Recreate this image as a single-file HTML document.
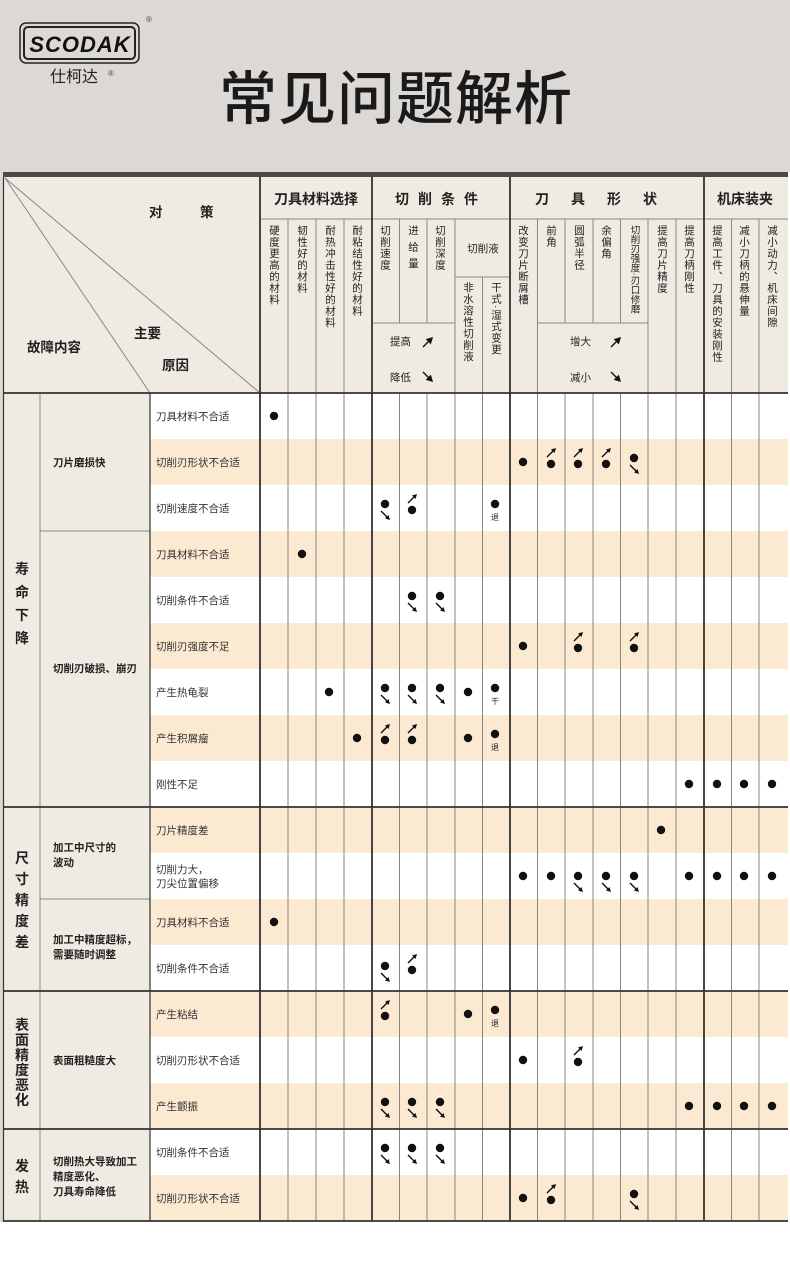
<!DOCTYPE html>
<html><head><meta charset="utf-8"><style>
html,body{margin:0;padding:0;background:#fff}
svg{display:block}
text{font-family:"Liberation Sans","Noto Sans CJK SC",sans-serif;fill:#222}
.v{writing-mode:vertical-rl;font-size:10.5px;letter-spacing:1px}
.r{font-size:10.5px;fill:#333}
.s{font-size:10.5px;fill:#222;font-weight:bold}
.c{font-size:14px;fill:#222;font-weight:bold}
.h{font-size:13.5px;fill:#222;font-weight:bold}
</style></head><body>
<svg width="790" height="1270" viewBox="0 0 790 1270" xmlns="http://www.w3.org/2000/svg">
<defs>
<g id="d"><circle cx="0" cy="0" r="4.2" fill="#111"/></g>
<g id="u"><circle cx="0" cy="0" r="4.2" fill="#111"/><path d="M-4,-7 L2.5,-13.5" stroke="#111" stroke-width="1.4"/><path d="M5,-16 L0,-14.5 L3.5,-11 Z" fill="#111"/></g>
<g id="n"><circle cx="0" cy="0" r="4.2" fill="#111"/><path d="M-4,7 L2.5,13.5" stroke="#111" stroke-width="1.4"/><path d="M5,16 L0,14.5 L3.5,11 Z" fill="#111"/></g>
</defs>
<!-- top band -->
<rect x="0" y="0" width="790" height="172" fill="#dcd8d5"/>
<rect x="0" y="172" width="3" height="1050" fill="#dcd8d5"/>
<rect x="20" y="23" width="119" height="40" rx="6" fill="none" stroke="#222" stroke-width="1.5"/>
<rect x="24" y="27" width="111" height="32" rx="4" fill="none" stroke="#222" stroke-width="2"/>
<text x="80" y="52" text-anchor="middle" style="font-size:22px;font-weight:bold;font-style:italic;fill:#111;letter-spacing:1px">SCODAK</text>
<text x="146" y="22" style="font-size:8px;fill:#444">®</text>
<text x="50" y="82" style="font-size:16px;fill:#222">仕柯达</text>
<text x="108" y="76" style="font-size:8px;fill:#444">®</text>
<text x="396" y="119" text-anchor="middle" style="font-size:58px;font-weight:500;fill:#1a1a1a;letter-spacing:1px">常见问题解析</text>

<!-- header bg -->
<rect x="3" y="177" width="785" height="216" fill="#efebe3"/>
<rect x="3" y="172" width="785" height="5" fill="#4a4a4a"/>

<!-- data backgrounds -->
<rect x="3" y="393" width="147" height="828" fill="#efebe3"/>
<rect x="150" y="393" width="638" height="828" fill="#fff"/>
<g fill="#fbe9d2">
<rect x="150" y="439" width="638" height="46"/>
<rect x="150" y="531" width="638" height="46"/>
<rect x="150" y="623" width="638" height="46"/>
<rect x="150" y="715" width="638" height="46"/>
<rect x="150" y="807" width="638" height="46"/>
<rect x="150" y="899" width="638" height="46"/>
<rect x="150" y="991" width="638" height="46"/>
<rect x="150" y="1083" width="638" height="46"/>
<rect x="150" y="1175" width="638" height="46"/>
</g>

<!-- header lines -->
<g stroke="#8a8580" stroke-width="1" fill="none">
<line x1="5" y1="178" x2="150" y2="393"/>
<line x1="5" y1="178" x2="260" y2="393"/>
<line x1="260" y1="219" x2="788" y2="219"/>
<line x1="372" y1="323" x2="455" y2="323"/>
<line x1="455" y1="277" x2="510" y2="277"/>
<line x1="537" y1="323" x2="648" y2="323"/>
<line x1="288" y1="219" x2="288" y2="1221"/>
<line x1="316" y1="219" x2="316" y2="1221"/>
<line x1="344" y1="219" x2="344" y2="1221"/>
<line x1="399.5" y1="219" x2="399.5" y2="323"/>
<line x1="427" y1="219" x2="427" y2="323"/>
<line x1="455" y1="219" x2="455" y2="1221"/>
<line x1="482.5" y1="277" x2="482.5" y2="1221"/>
<line x1="537.5" y1="219" x2="537.5" y2="1221"/>
<line x1="565" y1="219" x2="565" y2="323"/>
<line x1="593" y1="219" x2="593" y2="323"/>
<line x1="620.5" y1="219" x2="620.5" y2="323"/>
<line x1="648" y1="219" x2="648" y2="1221"/>
<line x1="676" y1="219" x2="676" y2="1221"/>
<line x1="731.5" y1="219" x2="731.5" y2="1221"/>
<line x1="759" y1="219" x2="759" y2="1221"/>
<line x1="399.5" y1="393" x2="399.5" y2="1221"/>
<line x1="427" y1="393" x2="427" y2="1221"/>
<line x1="565" y1="393" x2="565" y2="1221"/>
<line x1="593" y1="393" x2="593" y2="1221"/>
<line x1="620.5" y1="393" x2="620.5" y2="1221"/>
<line x1="40" y1="393" x2="40" y2="1221"/>
<line x1="40" y1="531" x2="150" y2="531"/>
<line x1="40" y1="899" x2="150" y2="899"/>
<line x1="40" y1="853" x2="40" y2="853"/>
</g>
<g stroke="#333" stroke-width="1.2">
<line x1="150" y1="393" x2="150" y2="1221"/>
<line x1="3.5" y1="177" x2="3.5" y2="1221"/>
</g>
<g stroke="#333" stroke-width="1.8">
<line x1="260" y1="177" x2="260" y2="1221"/>
<line x1="372" y1="177" x2="372" y2="1221"/>
<line x1="510" y1="177" x2="510" y2="1221"/>
<line x1="704" y1="177" x2="704" y2="1221"/>
<line x1="3" y1="393" x2="788" y2="393"/>
<line x1="3" y1="807" x2="788" y2="807"/>
<line x1="3" y1="991" x2="788" y2="991"/>
<line x1="3" y1="1129" x2="788" y2="1129"/>
<line x1="3" y1="1221" x2="788" y2="1221"/>
</g>

<!-- header text -->
<text x="149" y="217" class="h">对</text>
<text x="200" y="217" class="h">策</text>
<text x="134" y="338" class="h">主要</text>
<text x="27" y="352" class="h">故障内容</text>
<text x="162" y="370" class="h">原因</text>
<text x="316" y="204" text-anchor="middle" class="c">刀具材料选择</text>
<text x="441" y="204" text-anchor="middle" class="c" style="letter-spacing:9px">切削条件</text>
<text x="607" y="204" text-anchor="middle" class="c" style="letter-spacing:22px">刀具形状</text>
<text x="745" y="204" text-anchor="middle" class="c">机床装夹</text>

<text x="274" y="225" class="v">硬度更高的材料</text>
<text x="302" y="225" class="v">韧性好的材料</text>
<text x="330" y="225" class="v">耐热冲击性好的材料</text>
<text x="357" y="225" class="v">耐粘结性好的材料</text>
<text x="385" y="225" class="v">切削速度</text>
<text x="413" y="225" class="v" style="letter-spacing:6px">进给量</text>
<text x="440" y="225" class="v">切削深度</text>
<text x="483" y="252" text-anchor="middle" style="font-size:10.5px">切削液</text>
<text x="468" y="282" class="v">非水溶性切削液</text>
<text x="496" y="282" class="v">干式·湿式变更</text>
<text x="523" y="225" class="v">改变刀片断屑槽</text>
<text x="551" y="225" class="v">前角</text>
<text x="579" y="225" class="v">圆弧半径</text>
<text x="606" y="225" class="v">余偏角</text>
<text x="634" y="225" class="v" style="font-size:9.5px;letter-spacing:0">切削刃强度·刃口修磨</text>
<text x="662" y="225" class="v">提高刀片精度</text>
<text x="689" y="225" class="v">提高刀柄刚性</text>
<text x="717" y="225" class="v">提高工件、刀具的安装刚性</text>
<text x="744" y="225" class="v">减小刀柄的悬伸量</text>
<text x="772" y="225" class="v">减小动力、机床间隙</text>
<text x="390" y="345" style="font-size:10.5px">提高</text>
<text x="390" y="381" style="font-size:10.5px">降低</text>
<text x="570" y="345" style="font-size:10.5px">增大</text>
<text x="570" y="381" style="font-size:10.5px">减小</text>
<g stroke="#111" stroke-width="1.4" fill="#111">
<path d="M423,347 L430,340" /><path d="M432,338 L427,339.5 L430.5,343 Z"/>
<path d="M423,372 L430,379" /><path d="M432,381 L427,379.5 L430.5,376 Z"/>
<path d="M611,347 L618,340" /><path d="M620,338 L615,339.5 L618.5,343 Z"/>
<path d="M611,372 L618,379" /><path d="M620,381 L615,379.5 L618.5,376 Z"/>
</g>

<!-- left column text -->
<g style="font-size:14px;font-weight:bold;fill:#222">
<text x="22" y="574" text-anchor="middle">寿</text>
<text x="22" y="597" text-anchor="middle">命</text>
<text x="22" y="620" text-anchor="middle">下</text>
<text x="22" y="643" text-anchor="middle">降</text>
<text x="22" y="863" text-anchor="middle">尺</text>
<text x="22" y="884" text-anchor="middle">寸</text>
<text x="22" y="905" text-anchor="middle">精</text>
<text x="22" y="926" text-anchor="middle">度</text>
<text x="22" y="947" text-anchor="middle">差</text>
<text x="22" y="1030" text-anchor="middle">表</text>
<text x="22" y="1045" text-anchor="middle">面</text>
<text x="22" y="1060" text-anchor="middle">精</text>
<text x="22" y="1075" text-anchor="middle">度</text>
<text x="22" y="1090" text-anchor="middle">恶</text>
<text x="22" y="1105" text-anchor="middle">化</text>
<text x="22" y="1171" text-anchor="middle">发</text>
<text x="22" y="1192" text-anchor="middle">热</text>
</g>
<text x="53" y="466" class="s">刀片磨损快</text>
<text x="53" y="672" class="s">切削刃破损、崩刃</text>
<text x="53" y="851" class="s">加工中尺寸的</text>
<text x="53" y="866" class="s">波动</text>
<text x="53" y="943" class="s">加工中精度超标，</text>
<text x="53" y="958" class="s">需要随时调整</text>
<text x="53" y="1064" class="s">表面粗糙度大</text>
<text x="53" y="1165" class="s">切削热大导致加工</text>
<text x="53" y="1180" class="s">精度恶化、</text>
<text x="53" y="1195" class="s">刀具寿命降低</text>

<g class="r">
<text x="156" y="420" class="r">刀具材料不合适</text>
<text x="156" y="466" class="r">切削刃形状不合适</text>
<text x="156" y="512" class="r">切削速度不合适</text>
<text x="156" y="558" class="r">刀具材料不合适</text>
<text x="156" y="604" class="r">切削条件不合适</text>
<text x="156" y="650" class="r">切削刃强度不足</text>
<text x="156" y="696" class="r">产生热龟裂</text>
<text x="156" y="742" class="r">产生积屑瘤</text>
<text x="156" y="788" class="r">刚性不足</text>
<text x="156" y="834" class="r">刀片精度差</text>
<text x="156" y="873" class="r">切削力大，</text>
<text x="156" y="887" class="r">刀尖位置偏移</text>
<text x="156" y="926" class="r">刀具材料不合适</text>
<text x="156" y="972" class="r">切削条件不合适</text>
<text x="156" y="1018" class="r">产生粘结</text>
<text x="156" y="1064" class="r">切削刃形状不合适</text>
<text x="156" y="1110" class="r">产生颤振</text>
<text x="156" y="1156" class="r">切削条件不合适</text>
<text x="156" y="1202" class="r">切削刃形状不合适</text>
</g>

<!-- marks -->
<use href="#d" x="274" y="416"/>
<use href="#d" x="523" y="462"/><use href="#u" x="551" y="464"/><use href="#u" x="578" y="464"/><use href="#u" x="606" y="464"/><use href="#n" x="634" y="458"/>
<use href="#n" x="385" y="504"/><use href="#u" x="412" y="510"/><use href="#d" x="495" y="504"/><text x="495" y="520" text-anchor="middle" style="font-size:8px">退</text>
<use href="#d" x="302" y="554"/>
<use href="#n" x="412" y="596"/><use href="#n" x="440" y="596"/>
<use href="#d" x="523" y="646"/><use href="#u" x="578" y="648"/><use href="#u" x="634" y="648"/>
<use href="#d" x="329" y="692"/><use href="#n" x="385" y="688"/><use href="#n" x="412" y="688"/><use href="#n" x="440" y="688"/><use href="#d" x="468" y="692"/><use href="#d" x="495" y="688"/><text x="495" y="704" text-anchor="middle" style="font-size:8px">干</text>
<use href="#d" x="357" y="738"/><use href="#u" x="385" y="740"/><use href="#u" x="412" y="740"/><use href="#d" x="468" y="738"/><use href="#d" x="495" y="734"/><text x="495" y="750" text-anchor="middle" style="font-size:8px">退</text>
<use href="#d" x="689" y="784"/><use href="#d" x="717" y="784"/><use href="#d" x="744" y="784"/><use href="#d" x="772" y="784"/>
<use href="#d" x="661" y="830"/>
<use href="#d" x="523" y="876"/><use href="#d" x="551" y="876"/><use href="#n" x="578" y="876"/><use href="#n" x="606" y="876"/><use href="#n" x="634" y="876"/><use href="#d" x="689" y="876"/><use href="#d" x="717" y="876"/><use href="#d" x="744" y="876"/><use href="#d" x="772" y="876"/>
<use href="#d" x="274" y="922"/>
<use href="#n" x="385" y="966"/><use href="#u" x="412" y="970"/>
<use href="#u" x="385" y="1016"/><use href="#d" x="468" y="1014"/><use href="#d" x="495" y="1010"/><text x="495" y="1026" text-anchor="middle" style="font-size:8px">退</text>
<use href="#d" x="523" y="1060"/><use href="#u" x="578" y="1062"/>
<use href="#n" x="385" y="1102"/><use href="#n" x="412" y="1102"/><use href="#n" x="440" y="1102"/><use href="#d" x="689" y="1106"/><use href="#d" x="717" y="1106"/><use href="#d" x="744" y="1106"/><use href="#d" x="772" y="1106"/>
<use href="#n" x="385" y="1148"/><use href="#n" x="412" y="1148"/><use href="#n" x="440" y="1148"/>
<use href="#d" x="523" y="1198"/><use href="#u" x="551" y="1200"/><use href="#n" x="634" y="1194"/>
</svg>
</body></html>
